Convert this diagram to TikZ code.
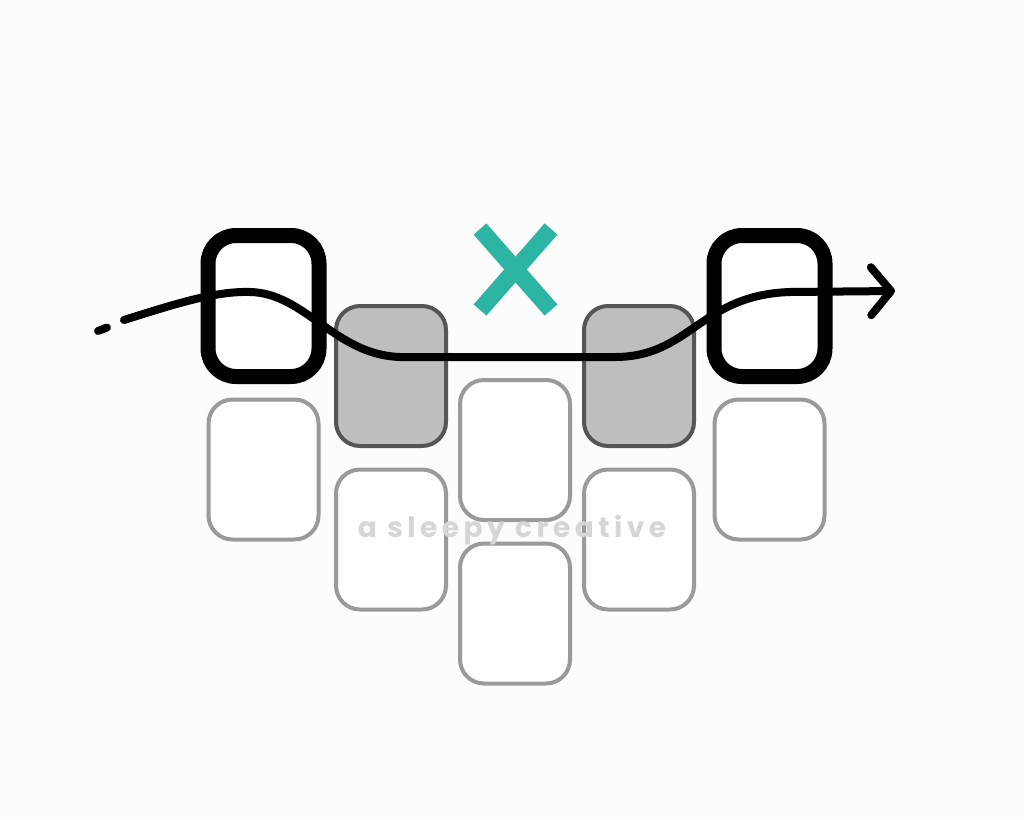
\documentclass[tikz,border=0pt]{standalone}
\usepackage{fontspec}
\usepackage{tikz}
\usetikzlibrary{calc,arrows.meta}
\newfontfamily\markfont[LetterSpace=16]{Poppins}
\definecolor{bgcol}{HTML}{FCFCFC}
\definecolor{teal}{HTML}{2CB5A2}
\definecolor{toothline}{HTML}{9A9A9A}
\definecolor{greyfill}{HTML}{BEBEBE}
\definecolor{greyline}{HTML}{555555}
\definecolor{markcol}{HTML}{D6D6D6}
\tikzset{
  tooth/.style={draw=toothline, line width=4pt, fill=white, rounded corners=24pt,
    minimum width=110pt, minimum height=140pt, inner sep=0pt},
  shaded/.style={tooth, draw=greyline, fill=greyfill},
  bracket/.style={draw=black, line width=15pt, fill=white, rounded corners=28pt,
    minimum width=111pt, minimum height=141pt, inner sep=0pt},
  wire/.style={line width=8pt, line cap=round, line join=round}
}

\begin{document}
\begin{tikzpicture}[x=1pt, y=-1pt]
      \fill[bgcol] (0, 0) rectangle (1024, 819);
      \useasboundingbox (0, 0) rectangle (1024, 819);
      \node[tooth] (outerL) at (263.5, 469.5) {};
      \node[tooth] (outerR) at (769.5, 469.5) {};
      \node[tooth] (lowL) at (391, 539.5) {};
      \node[tooth] (lowR) at (639, 539.5) {};
      \node[tooth] (midT) at (515, 450) {};
      \node[tooth] (midB) at (515, 613.5) {};
      \node[shaded] (greyL) at (391, 376) {};
      \node[shaded] (greyR) at (639, 376) {};
      \node[bracket] (brL) at (263.5, 306) {};
      \node[bracket] (brR) at (769.5, 306) {};
      \coordinate (dashA) at (98, 331);
      \coordinate (dashB) at (107, 327.5);
      \coordinate (start) at (124, 320);
      \coordinate (peak) at (250, 292);
      \coordinate (dipL) at (400, 357);
      \coordinate (dipR) at (615, 357);
      \coordinate (rise) at (790, 292);
      \coordinate (tip) at (895, 291);
      \draw[wire] (dashA) -- (dashB);
      \draw[wire, -{Straight Barb[length=20pt, width=48pt, round]}]
        (start) .. controls (175, 304) and (215, 291) .. (peak)
        .. controls (305, 293) and (335, 355) .. (dipL) -- (dipR)
        .. controls (690, 357) and (700, 295) .. (rise) -- (tip);
      \draw[teal, line width=17pt] (480, 229) -- (551, 310);
      \draw[teal, line width=17pt] (551, 229) -- (480, 310);
      \node[markcol, anchor=base, inner sep=0pt] (mark) at (512, 537)
        {\markfont\bfseries\fontsize{28}{30}\selectfont a sleepy creative};
    \end{tikzpicture}
\end{document}
